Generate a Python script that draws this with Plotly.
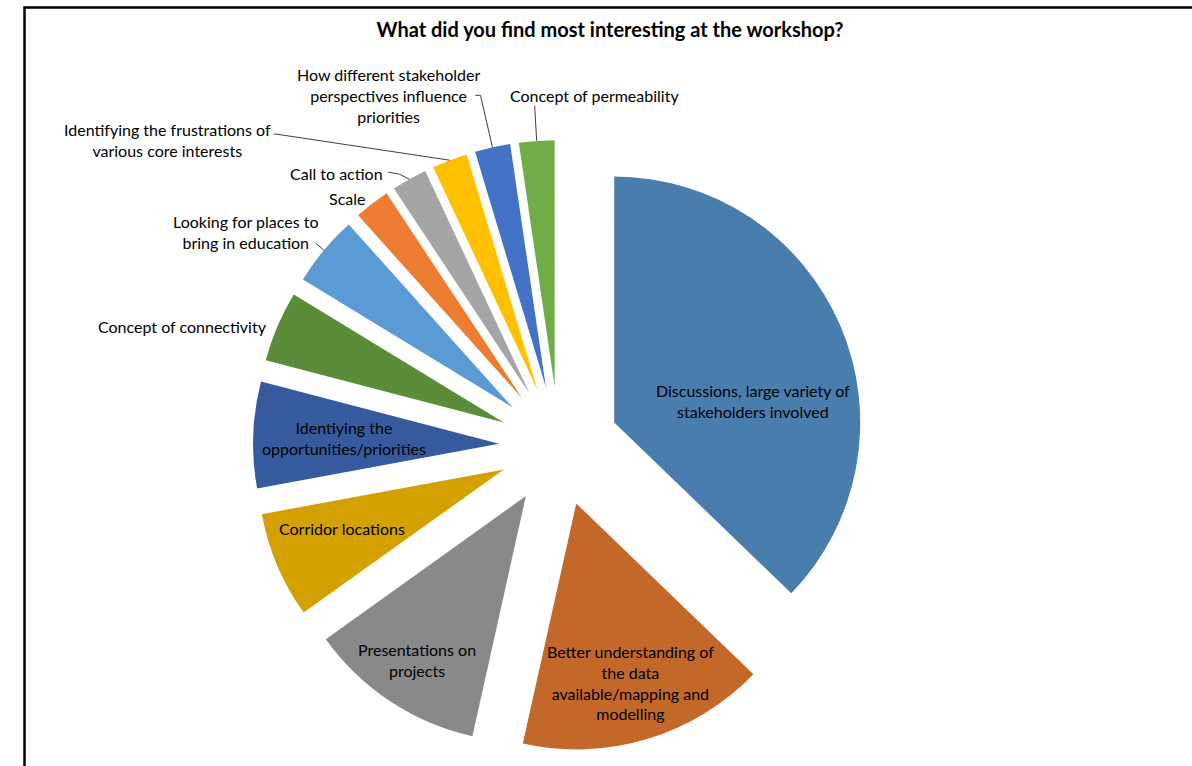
import math
import plotly.graph_objects as go

# ---------------- data ----------------
labels = [
    "Discussions, large variety of stakeholders involved",
    "Better understanding of the data available/mapping and modelling",
    "Presentations on projects",
    "Corridor locations",
    "Identiying the opportunities/priorities",
    "Concept of connectivity",
    "Looking for places to bring in education",
    "Scale",
    "Call to action",
    "Identifying the frustrations of various core interests",
    "How different stakeholder perspectives influence priorities",
    "Concept of permeability",
]
values = [16, 7, 5, 3, 3, 2, 2, 1, 1, 1, 1, 1]
label_text = [
    "Discussions, large variety of<br>stakeholders involved",
    "Better understanding of<br>the data<br>available/mapping and<br>modelling",
    "Presentations on<br>projects",
    "Corridor locations",
    "Identiying the<br>opportunities/priorities",
    "Concept of connectivity",
    "Looking for places to<br>bring in education",
    "Scale",
    "Call to action",
    "Identifying the frustrations of<br>various core interests",
    "How different stakeholder<br>perspectives influence<br>priorities",
    "Concept of permeability",
]
title_text = "What did you find most interesting at the workshop?"

# ---------------- style ----------------
colors = ["#497DAE", "#C4682A", "#898989", "#D4A000", "#355B9E", "#5A8C39",
          "#5B9BD5", "#ED7D31", "#A5A5A5", "#FFC000", "#4472C4", "#70AD47"]
FONT = "Lato, 'Open Sans', sans-serif"
LABEL_SIZE = 16
W, H = 1192, 766
CX, CY = 559, 446          # pie centre (px)
R = 246                    # pie radius (px)
PULL_PX = 60               # explosion distance (px)
pull = PULL_PX / R
D = R + PULL_PX

# inside labels: index -> (angle offset from bisector in deg, radial fraction of R)
inside = {0: (14, 0.57), 1: (0, 0.76), 2: (0, 0.80), 3: (3, 0.70), 4: (0, 0.63)}
# outside labels: index -> (dx, dy, xanchor, leader points relative to slice tip)
outside = {
    5: (-8, 0, "right", None),
    6: (-78, -18, "center", [(0, 0), (-8, -7)]),
    7: (-5, -5, "right", None),
    8: (-24, -6, "right", [(0, 0), (-10, -5), (-21, -7)]),
    9: (-282, -20, "center", [(0, 0), (-173, -26), (-176, -26)]),
    10: (-104, -52, "center", [(0, 0), (-12, -52), (-17, -52)]),
    11: (58, -45, "center", [(0, 0), (-2, -35)]),
}


def px2paper(x, y):
    return x / W, 1 - y / H


def dirv(deg):
    a = math.radians(deg)
    return math.sin(a), -math.cos(a)


total = sum(values)
mids = []
acc = 0
for v in values:
    mids.append((acc + v / 2) / total * 360)
    acc += v

fig = go.Figure()
x0, y0 = px2paper(CX - D, CY + D)
x1, y1 = px2paper(CX + D, CY - D)
fig.add_trace(go.Pie(
    labels=labels, values=values, sort=False, direction="clockwise", rotation=0,
    pull=[pull] * len(values), marker=dict(colors=colors, line=dict(width=0)),
    textinfo="none", hoverinfo="label+value+percent", showlegend=False,
    domain=dict(x=[x0, x1], y=[y0, y1]),
))

annotations = []
shapes = []
for i, (off, f) in inside.items():
    px_, py_ = dirv(mids[i])
    qx, qy = dirv(mids[i] + off)
    x = CX + PULL_PX * px_ + f * R * qx
    y = CY + PULL_PX * py_ + f * R * qy
    ax_, ay_ = px2paper(x, y)
    annotations.append(dict(x=ax_, y=ay_, xref="paper", yref="paper", text=label_text[i],
                            showarrow=False, xanchor="center", yanchor="middle",
                            font=dict(family=FONT, size=LABEL_SIZE, color="#000000")))

for i, (dx, dy, xa, pts) in outside.items():
    ux, uy = dirv(mids[i])
    tx, ty = CX + D * ux, CY + D * uy
    ax_, ay_ = px2paper(tx + dx, ty + dy)
    annotations.append(dict(x=ax_, y=ay_, xref="paper", yref="paper", text=label_text[i],
                            showarrow=False, xanchor=xa, yanchor="middle",
                            font=dict(family=FONT, size=LABEL_SIZE, color="#000000")))
    if pts:
        path = ""
        for k, (lx, ly) in enumerate(pts):
            qx, qy = px2paper(tx + lx, ty + ly)
            path += ("M" if k == 0 else " L") + f"{qx:.5f},{qy:.5f}"
        shapes.append(dict(type="path", path=path, xref="paper", yref="paper",
                           line=dict(color="#404040", width=1)))

# chart frame
fx0, fy1 = px2paper(24.5, 7.5)
shapes.append(dict(type="rect", xref="paper", yref="paper", x0=fx0, y0=-0.05, x1=1.05, y1=fy1,
                   line=dict(color="#000000", width=2.5), fillcolor="rgba(0,0,0,0)"))

tx, ty = px2paper(610, 30)
fig.update_layout(
    width=W, height=H, margin=dict(l=0, r=0, t=0, b=0),
    paper_bgcolor="white", plot_bgcolor="white",
    title=dict(text=title_text, x=tx, y=ty, xanchor="center", yanchor="middle",
               xref="paper", yref="paper",
               font=dict(family=FONT, size=20, color="#000000", weight="bold")),
    annotations=annotations, shapes=shapes,
)

fig.write_html("out.html", config={"displayModeBar": False},
               post_script="document.body.style.margin='0';document.body.style.overflow='hidden';")
